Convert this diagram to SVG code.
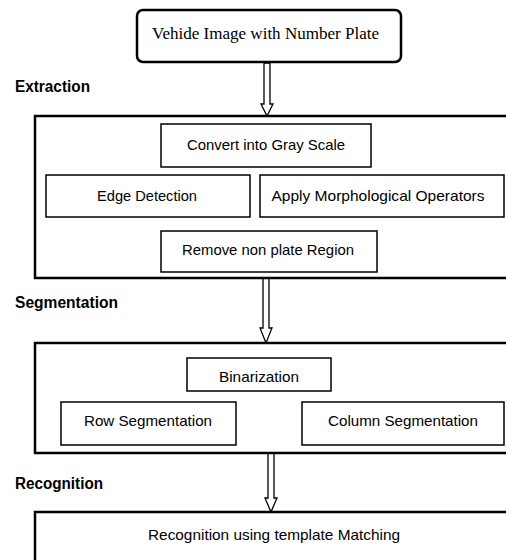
<svg xmlns="http://www.w3.org/2000/svg" width="506" height="560" viewBox="0 0 506 560">
<style>
.big{fill:#fff;stroke:#000;stroke-width:2.5}
.box{fill:#fff;stroke:#000;stroke-width:1.5}
.t{font-family:"Liberation Sans",Arial,sans-serif;font-size:14.5px;fill:#000;text-anchor:middle;dominant-baseline:central}
.h{font-family:"Liberation Sans",Arial,sans-serif;font-size:16px;font-weight:bold;fill:#000}
.s{font-family:"Liberation Serif","Times New Roman",serif;font-size:17px;fill:#000}
.arr{fill:#fff;stroke:#000;stroke-width:1.3}
</style>
<rect width="506" height="560" fill="#fff"/>
<g id="connectors">
<polygon class="arr" points="264,63 270,63 270,104 273,104 267,116 261,104 264,104"/>
<polygon class="arr" points="263,278 269,278 269,328 272,328 266,343 260,328 263,328"/>
<polygon class="arr" points="268,453 274,453 274,498 277,498 271,512 265,498 268,498"/>
</g>
<g id="input">
<rect class="big" x="137" y="10" width="264" height="52" rx="6"/>
<text class="s" x="152" y="39" textLength="227" lengthAdjust="spacingAndGlyphs">Vehide Image with Number Plate</text>
</g>
<g id="label-extraction"><text class="h" x="15" y="92" textLength="75" lengthAdjust="spacingAndGlyphs">Extraction</text></g>
<g id="extraction">
<rect class="big" x="35" y="116" width="480" height="162"/>
</g>
<g id="gray"><rect class="box" x="161" y="124" width="210" height="43"/><text class="t" x="266" y="145" textLength="158" lengthAdjust="spacingAndGlyphs">Convert into Gray Scale</text></g>
<g id="edge"><rect class="box" x="46" y="175" width="204" height="42"/><text class="t" x="147" y="196" textLength="100" lengthAdjust="spacingAndGlyphs">Edge Detection</text></g>
<g id="morph"><rect class="box" x="260" y="175" width="244" height="42"/><text class="t" x="378" y="196" textLength="213" lengthAdjust="spacingAndGlyphs">Apply Morphological Operators</text></g>
<g id="remove"><rect class="box" x="161" y="231" width="216" height="41"/><text class="t" x="268" y="250" textLength="172" lengthAdjust="spacingAndGlyphs">Remove non plate Region</text></g>
<g id="label-segmentation"><text class="h" x="15" y="308" textLength="103" lengthAdjust="spacingAndGlyphs">Segmentation</text></g>
<g id="segmentation">
<rect class="big" x="35" y="343" width="480" height="110"/>
</g>
<g id="binarization"><rect class="box" x="187" y="358" width="144" height="33"/><text class="t" x="259" y="377" textLength="80" lengthAdjust="spacingAndGlyphs">Binarization</text></g>
<g id="row"><rect class="box" x="61" y="402" width="175" height="43"/><text class="t" x="148" y="421" textLength="128" lengthAdjust="spacingAndGlyphs">Row Segmentation</text></g>
<g id="column"><rect class="box" x="302" y="402" width="202" height="43"/><text class="t" x="403" y="421" textLength="150" lengthAdjust="spacingAndGlyphs">Column Segmentation</text></g>
<g id="label-recognition"><text class="h" x="15" y="489" textLength="88" lengthAdjust="spacingAndGlyphs">Recognition</text></g>
<g id="recognition">
<rect class="big" x="35" y="512" width="480" height="60"/>
<text class="t" x="274" y="535" textLength="252" lengthAdjust="spacingAndGlyphs">Recognition using template Matching</text>
</g>
</svg>
